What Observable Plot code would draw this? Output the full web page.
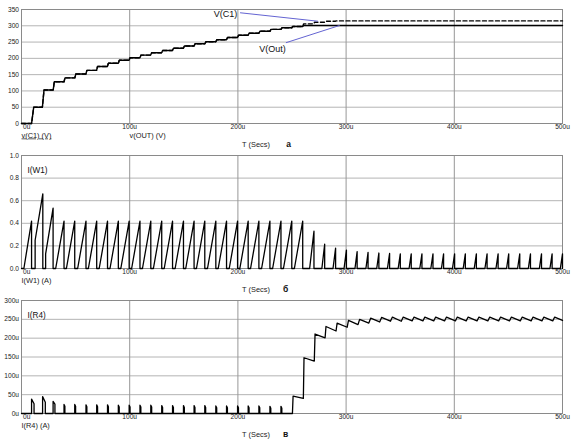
<!DOCTYPE html>
<html><head><meta charset="utf-8">
<script src="https://cdn.jsdelivr.net/npm/d3@7"></script>
<script src="https://cdn.jsdelivr.net/npm/@observablehq/plot@0.6"></script>
<style>
body{margin:0;background:#fff}
#chart{width:584px;height:444px;overflow:hidden;background:#fff}
#chart svg{display:block}
.ul text{text-decoration:underline;text-decoration-color:#aaa}
</style></head><body><div id="chart"></div>
<script>
// ---- axes / ticks ----
const xTicks = [0, 100, 200, 300, 400, 500];
const xGrid = [100, 200, 300, 400];
const vTicks = [0, 50, 100, 150, 200, 250, 300, 350];
const iW1Ticks = [0, 0.2, 0.4, 0.6, 0.8, 1.0];
const iR4Ticks = [0, 50, 100, 150, 200, 250, 300];

// ---- panel a: V(C1) (dashed) and V(Out) (solid), time in us, volts ----
const c1T = [0, 9.3, 11.3, 19.3, 20.8, 29.3, 30.3, 39.3, 40.2, 49.3, 50.2, 59.5, 60.4, 69.4, 70.3, 79.4, 80.3, 89.5, 90.4, 99.4, 100.3, 109.5, 110.4, 119.4, 120.3, 129.5, 130.4, 139.5, 140.4, 149.6, 150.5, 159.5, 160.4, 169.5, 170.4, 179.6, 180.5, 189.5, 190.4, 199.7, 200.6, 209.5, 210.4, 219.4, 220.3, 229.6, 230.5, 239.8, 240.7, 249.8, 250.7, 259.9, 260.8, 270.0, 270.9, 280.0, 280.9, 290.0, 290.9, 500];
const c1V = [0, 0, 50, 50, 103, 103, 128, 128, 140, 140, 152, 152, 163, 163, 175, 175, 185, 185, 194, 194, 202, 202, 210, 210, 217, 217, 224, 224, 231, 231, 238, 238, 245, 245, 251, 251, 257, 257, 264, 264, 271, 271, 277, 277, 283, 283, 289, 289, 294, 294, 298, 298, 306, 306, 311, 311, 314, 314, 315, 315];
const outT = [0, 9.3, 11.3, 19.3, 20.8, 29.3, 30.3, 39.3, 40.2, 49.3, 50.2, 59.5, 60.4, 69.4, 70.3, 79.4, 80.3, 89.5, 90.4, 99.4, 100.3, 109.5, 110.4, 119.4, 120.3, 129.5, 130.4, 139.5, 140.4, 149.6, 150.5, 159.5, 160.4, 169.5, 170.4, 179.6, 180.5, 189.5, 190.4, 199.7, 200.6, 209.5, 210.4, 219.4, 220.3, 229.6, 230.5, 239.8, 240.7, 249.8, 250.7, 259.9, 260.8, 500];
const outV = [0, 0, 50, 50, 103, 103, 128, 128, 140, 140, 152, 152, 163, 163, 175, 175, 185, 185, 194, 194, 202, 202, 210, 210, 217, 217, 224, 224, 231, 231, 238, 238, 245, 245, 251, 251, 257, 257, 264, 264, 271, 271, 277, 277, 283, 283, 289, 289, 294, 294, 298, 298, 301, 301];

// ---- panel b: I(W1) pulses, amperes ----
const w1StartT = [2.2, 12.6, 22.3, 31.6, 41.5, 51.9, 61.8, 71.8, 81.8, 91.8, 101.8, 111.8, 121.9, 131.9, 142.0, 151.8, 161.7, 171.9, 181.8, 192.0, 201.8, 211.7, 221.9, 232.1, 242.1, 252.2, 266.3, 277.6, 287.9, 298.1, 308.2, 318.3, 328.3, 338.2, 348.1, 358.2, 368.1, 378.3, 388.1, 398.3, 408.2, 418.4, 428.3, 438.5, 448.3, 458.5, 468.4, 478.6, 488.4, 498.0];
const w1StartV = [0, 0.25, 0.13, 0, 0, 0, 0, 0, 0, 0, 0, 0, 0, 0, 0, 0, 0, 0, 0, 0, 0, 0, 0, 0, 0, 0, 0, 0, 0, 0, 0, 0, 0, 0, 0, 0, 0, 0, 0, 0, 0, 0, 0, 0, 0, 0, 0, 0, 0, 0];
const w1PeakT = [9.3, 19.7, 29.2, 39.3, 49.2, 59.6, 69.5, 79.5, 89.5, 99.5, 109.5, 119.5, 129.6, 139.6, 149.7, 159.5, 169.4, 179.6, 189.5, 199.7, 209.5, 219.4, 229.6, 239.8, 249.8, 259.9, 270.3, 280.2, 290.3, 300.3, 310.2, 320.3, 330.3, 340.2, 350.1, 360.2, 370.1, 380.3, 390.1, 400.3, 410.2, 420.4, 430.3, 440.5, 450.3, 460.5, 470.4, 480.6, 490.4, 500];
const w1Peak = [0.42, 0.66, 0.535, 0.42, 0.42, 0.42, 0.42, 0.42, 0.42, 0.42, 0.42, 0.42, 0.42, 0.42, 0.42, 0.42, 0.42, 0.42, 0.42, 0.42, 0.42, 0.42, 0.42, 0.42, 0.42, 0.42, 0.33, 0.215, 0.18, 0.163, 0.15, 0.142, 0.137, 0.133, 0.13, 0.13, 0.13, 0.13, 0.13, 0.13, 0.13, 0.13, 0.13, 0.13, 0.13, 0.13, 0.13, 0.13, 0.13, 0.13];

// ---- panel c: I(R4), microamperes ----
const r4SpikeT = [9.3, 19.5, 29.2, 39.3, 49.2, 59.6, 69.5, 79.5, 89.5, 99.5, 109.5, 119.5, 129.6, 139.6, 149.7, 159.5, 169.4, 179.6, 189.5, 199.7, 209.5, 219.4, 229.6, 239.8];
const r4SpikeEndT = [11.6, 22.0, 30.9, 40.1, 50.0, 60.4, 70.3, 80.3, 90.3, 100.3, 110.3, 120.3, 130.4, 140.4, 150.5, 160.3, 170.2, 180.4, 190.3, 200.5, 210.3, 220.2, 230.4, 240.6];
const r4SpikeH = [38, 45, 32, 24, 24, 23, 23, 23, 22, 22, 22, 22, 21, 21, 21, 21, 21, 20, 20, 20, 20, 20, 19, 19];
const r4SpikeH2 = [26, 30, 25, 19, 19, 18, 18, 18, 17, 17, 17, 17, 16, 16, 16, 16, 16, 15, 15, 15, 15, 15, 14, 14];
const r4WaveT = [250.4, 251.0, 260.5, 261.1, 270.6, 271.3, 280.6, 281.4, 290.7, 291.7, 301.0, 302.2, 311.0, 312.5, 321.0, 322.7, 331.0, 332.8, 341.0, 342.8, 351.0, 352.8, 361.0, 362.8, 371.0, 372.8, 381.0, 382.8, 391.0, 392.8, 401.0, 402.8, 411.0, 412.8, 421.0, 422.8, 431.0, 432.8, 441.0, 442.8, 451.0, 452.8, 461.0, 462.8, 471.0, 472.8, 481.0, 482.8, 491.0, 492.8, 500];
const r4WaveV = [0, 46, 40, 148, 139, 211, 201, 231, 219, 240, 229, 247, 236, 250, 240, 253, 243, 255, 245, 256, 245, 256, 246, 256, 246, 256, 246, 256, 246, 256, 246, 256, 246, 256, 246, 256, 246, 256, 246, 256, 246, 256, 246, 256, 246, 256, 246, 256, 246, 256, 247];

// ---- build point tables ----
const pts = (T, V) => T.map((t, i) => ({t, v: V[i]}));
const c1Pts = pts(c1T, c1V);
const outPts = pts(outT, outV);
const w1Pts = [{t: 0, v: 0}];
w1PeakT.forEach((p, i) => {
  w1Pts.push({t: w1StartT[i], v: 0}, {t: w1StartT[i], v: w1StartV[i]}, {t: p, v: w1Peak[i]}, {t: p, v: 0});
});
const r4Pts = [{t: 0, v: 0}];
r4SpikeT.forEach((t, i) => {
  r4Pts.push({t, v: 0}, {t, v: r4SpikeH[i]}, {t: r4SpikeEndT[i], v: r4SpikeH2[i]}, {t: r4SpikeEndT[i], v: 0});
});
r4WaveT.forEach((t, i) => r4Pts.push({t, v: r4WaveV[i]}));

const FONT = "'Liberation Sans', Arial, Helvetica, sans-serif";
const TICK = 6.6, LAB = 7.4;

function panel({height, mt, mb, yDomain, yTicks, yFmt, marks, xName, letter, letterDx}) {
  return Plot.plot({
    width: 584, height, marginTop: mt, marginBottom: mb, marginLeft: 21, marginRight: 22,
    style: {fontFamily: FONT, background: "#fff", color: "#111", overflow: "visible"},
    x: {domain: [0, 500], axis: null},
    y: {domain: yDomain, axis: null},
    marks: [
      Plot.gridY(yTicks, {stroke: "#b4b4b4", strokeOpacity: 1}),
      Plot.gridX(xGrid, {stroke: "#979797", strokeOpacity: 1}),
      Plot.frame({stroke: "#8a8a8a"}),
      ...marks,
      Plot.text(yTicks, {y: d => d, text: yFmt, frameAnchor: "left", textAnchor: "end", dx: -2.5, fontSize: TICK, fill: "#222"}),
      Plot.text(xTicks.slice(1), {x: d => d, text: d => d + "u", frameAnchor: "bottom", dy: 5, fontSize: TICK, fill: "#222"}),
      Plot.text(xTicks.slice(0, 1), {x: d => d, text: d => d + "u", frameAnchor: "bottom", textAnchor: "start", dx: 1.5, dy: 5, fontSize: TICK, fill: "#222"}),
      ...xName,
      Plot.text(["T (Secs)"], {text: d => d, frameAnchor: "bottom-left", textAnchor: "middle", dx: 234.5, dy: 23.5, fontSize: LAB, fill: "#222"}),
      Plot.text([letter], {text: d => d, frameAnchor: "bottom-left", textAnchor: "middle", dx: letterDx, dy: 23.5, fontSize: 8.5, fontWeight: "bold", fill: "#111"})
    ]
  });
}

const root = document.getElementById("chart");

root.appendChild(panel({
  height: 150, mt: 9, mb: 27, yDomain: [0, 350], yTicks: vTicks, yFmt: d => String(d),
  letter: "а", letterDx: 267,
  xName: [
    Plot.text(["v(C1) (V)"], {text: d => d, frameAnchor: "bottom-left", textAnchor: "start", dy: 14, fontSize: LAB, fill: "#222", className: "ul"}),
    Plot.text(["v(OUT) (V)"], {text: d => d, frameAnchor: "bottom-left", textAnchor: "start", dx: 108, dy: 14, fontSize: LAB, fill: "#222"})
  ],
  marks: [
    Plot.line(outPts, {x: "t", y: "v", stroke: "#000", strokeWidth: 1.4}),
    Plot.line(c1Pts, {x: "t", y: "v", stroke: "#000", strokeWidth: 1.4, strokeDasharray: "4,2.5"}),
    Plot.link([0], {x1: 202, y1: 340, x2: 274, y2: 314, stroke: "#6464d2", strokeWidth: 1}),
    Plot.link([0], {x1: 244.4, y1: 248, x2: 294, y2: 301, stroke: "#6464d2", strokeWidth: 1}),
    Plot.text(["V(C1)"], {x: 199.5, y: 335, text: d => d, textAnchor: "end", fontSize: 9, fill: "#111"}),
    Plot.text(["V(Out)"], {x: 232, y: 227, text: d => d, textAnchor: "middle", fontSize: 9, fill: "#111"})
  ]
}));

root.appendChild(panel({
  height: 146, mt: 5, mb: 28, yDomain: [0, 1], yTicks: iW1Ticks, yFmt: d => d.toFixed(1),
  letter: "б", letterDx: 264,
  xName: [
    Plot.text(["I(W1) (A)"], {text: d => d, frameAnchor: "bottom-left", textAnchor: "start", dy: 14, fontSize: LAB, fill: "#222"})
  ],
  marks: [
    Plot.line(w1Pts, {x: "t", y: "v", stroke: "#000", strokeWidth: 1.3}),
    Plot.text(["I(W1)"], {text: d => d, frameAnchor: "top-left", textAnchor: "start", dx: 6, dy: 12, fontSize: 8.2, fill: "#111"})
  ]
}));

root.appendChild(panel({
  height: 148, mt: 4, mb: 31, yDomain: [0, 300], yTicks: iR4Ticks, yFmt: d => d + "u",
  letter: "в", letterDx: 264,
  xName: [
    Plot.text(["I(R4) (A)"], {text: d => d, frameAnchor: "bottom-left", textAnchor: "start", dy: 14, fontSize: LAB, fill: "#222"})
  ],
  marks: [
    Plot.line(r4Pts, {x: "t", y: "v", stroke: "#000", strokeWidth: 1.3}),
    Plot.text(["I(R4)"], {text: d => d, frameAnchor: "top-left", textAnchor: "start", dx: 6, dy: 12, fontSize: 8.2, fill: "#111"})
  ]
}));
</script></body></html>
